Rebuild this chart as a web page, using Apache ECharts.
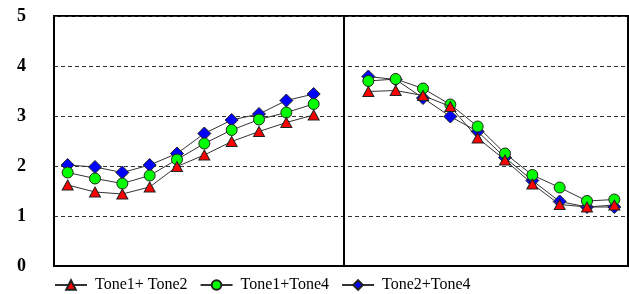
<!DOCTYPE html>
<html>
<head>
<meta charset="utf-8">
<script src="https://cdn.jsdelivr.net/npm/echarts@6/dist/echarts.min.js"></script>
<style>html,body{margin:0;padding:0;background:#fff}#c{width:629px;height:294px}</style>
</head>
<body>
<div id="c"></div>
<script>
// slot index 10 is the empty gap between the two halves
const xLeft = [0,1,2,3,4,5,6,7,8,9];
const xRight = [11,12,13,14,15,16,17,18,19,20];
const seriesNames = ['Tone1+ Tone2', 'Tone1+Tone4', 'Tone2+Tone4'];
const t12Left  = [1.62,1.48,1.44,1.58,1.99,2.22,2.49,2.69,2.87,3.02];
const t12Right = [3.49,3.51,3.41,3.19,2.56,2.12,1.64,1.23,1.18,1.22];
const t14Left  = [1.87,1.75,1.65,1.81,2.13,2.45,2.72,2.93,3.07,3.24];
const t14Right = [3.70,3.74,3.55,3.23,2.79,2.25,1.82,1.57,1.30,1.33];
const t24Left  = [2.02,1.98,1.87,2.02,2.25,2.65,2.92,3.04,3.31,3.44];
const t24Right = [3.79,3.73,3.36,2.99,2.69,2.17,1.71,1.29,1.18,1.18];
const yTicks = [0,1,2,3,4,5];
const dividerAt = 10.1;

function pairs(xs, ys){ return xs.map((x,i)=>[x, ys[i]]); }

const styles = [
  {symbol:'triangle', size:[11,10], color:'#ff0000', z:4},
  {symbol:'circle', size:11, color:'#00ff00', z:3},
  {symbol:'diamond', size:13, color:'#0000ff', z:2}
];
const dataSets = [[t12Left,t12Right],[t14Left,t14Right],[t24Left,t24Right]];

const series = [];
dataSets.forEach((d, k) => {
  const st = styles[k];
  const common = {
    type:'line', name: seriesNames[k], symbol: st.symbol, symbolSize: st.size,
    z: st.z, animation:false,
    itemStyle:{color: st.color, borderColor:'#222', borderWidth:1},
    lineStyle:{color:'#333', width:1}
  };
  series.push(Object.assign({}, common, {data: pairs(xLeft, d[0])}));
  series.push(Object.assign({}, common, {data: pairs(xRight, d[1])}));
});
series[0].markLine = {
  silent:true, symbol:'none', label:{show:false},
  lineStyle:{color:'#000', width:2, type:'solid'},
  data:[{xAxis: dividerAt}]
};

const chart = echarts.init(document.getElementById('c'));
chart.setOption({
  backgroundColor:'#fff',
  animation:false,
  grid:{left:54, right:1, top:16, bottom:28, show:true, borderColor:'#000', borderWidth:2},
  xAxis:{type:'value', min:-0.5, max:20.5, axisLabel:{show:false}, axisTick:{show:false},
    splitLine:{show:false}, axisLine:{show:true, onZero:false, lineStyle:{color:'#000', width:2}}},
  yAxis:{type:'value', min:yTicks[0], max:yTicks[yTicks.length-1], interval:1,
    axisTick:{show:false},
    axisLine:{show:true, onZero:false, lineStyle:{color:'#000', width:2}},
    axisLabel:{margin:28, color:'#000', fontFamily:'Liberation Serif', fontWeight:'bold', fontSize:18},
    splitLine:{show:true, lineStyle:{color:'#333', type:[4,3], width:1}}},
  legend:{
    data: seriesNames, left:49, top:272, itemWidth:32, itemHeight:12, itemGap:12,
    textStyle:{fontFamily:'Liberation Serif', fontSize:16, color:'#000', padding:[0,0,0,3]}
  },
  series: series
});
</script>
</body>
</html>
